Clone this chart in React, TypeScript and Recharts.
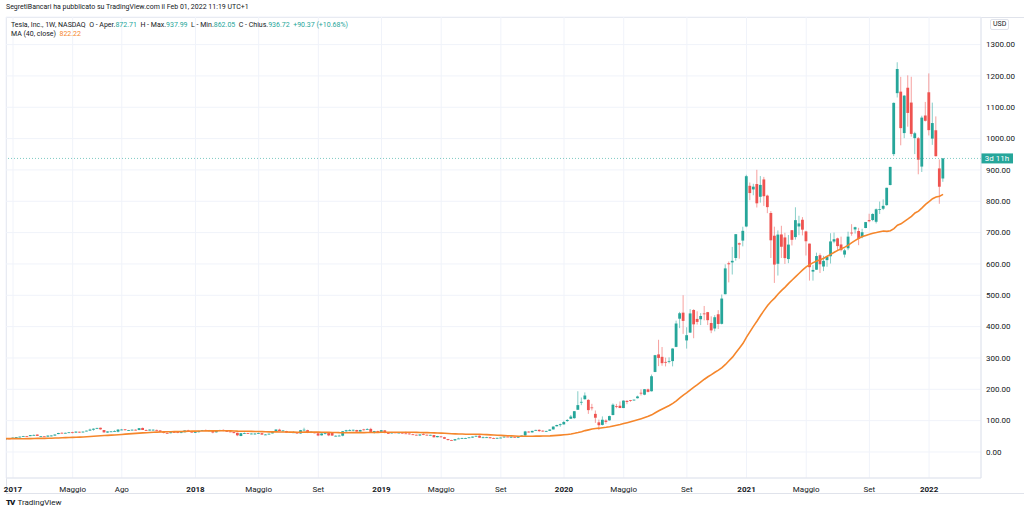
import React from "react";
import { Bar, CartesianGrid, ComposedChart, Line, ReferenceLine, XAxis, YAxis } from "recharts";

const UP = "#26a69a";
const DOWN = "#ef5350";
const MA_COLOR = "#f5862b";
const TEXT = "#131722";
const BORDER = "#e0e3eb";

// weekly candles, [open, high, low, close], prices adjusted for the 2020 split
const candles2016 = [
  [40.5, 42.8, 40.4, 42.7], [43.0, 44.5, 42.4, 42.7],
];
const candles2017 = [
  [43.0, 46.5, 42.9, 45.8], [45.9, 47.8, 45.3, 47.6], [47.5, 49.4, 46.8, 48.9], [49.0, 51.3, 48.8, 50.6],
  [50.4, 51.2, 49.0, 50.3], [50.6, 54.2, 50.4, 53.8], [54.0, 56.0, 53.6, 54.4], [55.6, 56.2, 51.2, 51.4],
  [50.0, 51.0, 48.8, 50.3], [50.0, 50.6, 48.5, 48.7], [49.0, 52.8, 48.6, 52.3], [52.5, 53.2, 49.5, 52.6],
  [52.4, 56.0, 52.0, 55.7], [57.2, 61.2, 56.8, 60.5], [61.2, 62.7, 59.9, 60.8], [60.5, 61.8, 59.6, 61.1],
  [61.6, 63.2, 60.6, 62.8], [63.0, 64.7, 59.4, 61.7], [61.8, 65.7, 61.5, 65.0], [64.6, 64.9, 60.6, 62.2],
  [62.4, 65.2, 62.0, 65.0], [66.1, 68.2, 65.8, 68.0], [68.2, 74.4, 68.0, 71.5], [71.0, 75.3, 68.0, 74.3],
  [74.9, 77.3, 73.0, 76.7], [77.3, 77.6, 71.0, 72.3], [70.0, 70.0, 61.8, 62.6], [62.0, 66.0, 60.8, 65.6],
  [65.2, 66.5, 63.8, 65.7], [65.7, 69.3, 64.8, 67.0], [64.8, 73.0, 62.7, 71.4], [71.4, 73.6, 69.4, 71.6],
  [72.4, 73.0, 69.2, 69.5], [68.9, 70.4, 67.0, 69.6], [69.6, 71.9, 69.0, 71.1], [71.0, 72.4, 68.6, 68.7],
  [70.0, 76.3, 69.9, 76.0], [76.7, 77.9, 70.0, 70.2], [70.0, 72.0, 67.5, 68.2], [68.5, 72.0, 68.0, 71.4],
  [70.4, 72.4, 68.6, 71.1], [70.4, 71.4, 68.0, 69.0], [68.8, 69.2, 63.1, 64.2], [64.4, 64.6, 59.1, 61.2],
  [60.8, 62.6, 59.2, 60.6], [60.0, 64.0, 59.4, 63.0], [63.4, 63.9, 61.8, 63.1], [63.1, 64.1, 60.0, 61.4],
  [61.4, 63.4, 60.2, 63.0], [63.0, 69.4, 62.7, 68.7], [69.0, 71.0, 64.4, 65.0], [64.5, 66.0, 61.7, 62.3],
];
const candles2018 = [
  [62.4, 64.6, 60.4, 63.2], [63.2, 67.6, 62.4, 67.2], [67.6, 70.2, 67.0, 70.0], [70.2, 72.0, 68.0, 68.6],
  [68.8, 70.4, 66.8, 68.8], [67.4, 69.2, 59.6, 62.1], [62.8, 67.6, 62.0, 67.1], [67.1, 71.0, 66.2, 70.2],
  [70.4, 72.0, 66.0, 67.0], [66.4, 67.6, 64.2, 65.4], [65.4, 67.2, 63.3, 64.3], [63.4, 64.0, 60.0, 60.3],
  [61.2, 62.0, 50.4, 53.2], [51.0, 60.8, 50.4, 59.9], [59.9, 62.2, 58.8, 60.1], [60.4, 61.4, 57.6, 58.0],
  [57.6, 59.6, 56.6, 58.8], [58.8, 61.0, 55.0, 58.8], [59.0, 62.2, 58.2, 60.2], [60.0, 60.4, 55.2, 55.4],
  [55.8, 57.4, 54.0, 55.8], [56.0, 58.8, 55.2, 58.4], [59.4, 67.0, 59.2, 63.5], [64.4, 72.8, 64.0, 71.6],
  [71.2, 74.3, 66.5, 66.7], [66.6, 70.0, 64.2, 68.6], [67.0, 67.6, 61.2, 61.8], [62.0, 64.6, 61.4, 63.8],
  [62.0, 66.0, 61.4, 62.7], [61.4, 61.8, 59.2, 59.4], [59.2, 70.4, 58.0, 69.6], [70.0, 77.4, 68.8, 71.1],
  [69.6, 71.0, 60.2, 61.1], [61.2, 66.0, 60.2, 64.6], [62.4, 64.0, 59.4, 60.3], [59.6, 60.0, 50.5, 52.6],
  [53.2, 59.8, 52.4, 59.0], [58.0, 60.2, 56.5, 59.8], [60.2, 62.0, 50.4, 53.0], [61.0, 62.2, 51.4, 52.4],
  [51.8, 53.0, 49.6, 51.8], [51.6, 55.2, 50.8, 52.2], [52.0, 67.0, 50.0, 66.2], [66.0, 70.8, 64.2, 69.3],
  [68.8, 72.6, 67.4, 70.1], [70.0, 71.0, 65.8, 70.9], [70.0, 70.8, 64.2, 65.2], [65.2, 71.2, 64.6, 70.1],
  [72.0, 74.0, 68.4, 71.6], [72.0, 76.0, 71.0, 73.1], [73.6, 77.2, 63.6, 64.0], [62.6, 67.4, 58.8, 66.6],
];
const candles2019 = [
  [66.6, 68.0, 60.4, 63.5], [64.2, 70.0, 63.0, 69.5], [69.0, 69.8, 59.6, 60.5], [60.6, 61.2, 57.6, 59.4],
  [59.4, 64.0, 58.6, 62.4], [62.4, 63.4, 60.4, 61.2], [61.6, 62.8, 60.6, 61.6], [61.4, 62.6, 58.4, 58.9],
  [59.4, 65.0, 58.2, 59.0], [59.0, 59.4, 55.6, 56.8], [56.4, 58.2, 54.4, 55.1], [55.0, 55.6, 52.6, 52.9],
  [52.6, 56.2, 50.8, 56.0], [56.8, 59.8, 53.6, 55.0], [55.0, 55.8, 53.0, 53.6], [53.6, 55.0, 53.0, 54.7],
  [54.0, 54.4, 46.0, 47.0], [47.2, 51.4, 46.6, 51.0], [49.6, 51.2, 46.6, 47.9], [47.2, 48.4, 41.6, 42.2],
  [41.2, 41.8, 36.6, 38.1], [38.2, 39.0, 36.8, 37.0], [37.0, 41.2, 35.4, 40.9], [42.2, 45.6, 41.8, 43.0],
  [43.0, 45.6, 42.4, 44.4], [44.6, 45.2, 42.6, 44.7], [46.4, 47.6, 44.6, 46.6], [46.0, 49.2, 45.2, 49.1],
  [49.4, 51.8, 48.6, 51.6], [52.0, 53.0, 45.2, 45.6], [45.6, 49.4, 44.2, 46.9], [45.8, 48.4, 45.0, 47.0],
  [47.0, 47.4, 43.2, 44.0], [44.4, 46.0, 42.0, 42.3], [42.6, 45.6, 42.2, 45.1], [45.0, 46.4, 44.0, 45.9],
  [46.6, 49.4, 45.6, 49.0], [49.0, 49.8, 47.6, 48.1], [48.2, 49.4, 45.6, 48.4], [48.2, 49.0, 45.8, 46.3],
  [45.6, 50.0, 45.4, 49.6], [49.4, 52.6, 49.0, 52.4], [52.6, 67.4, 50.4, 65.6], [65.0, 66.6, 61.8, 62.7],
  [62.6, 67.8, 62.0, 67.4], [69.0, 70.8, 67.6, 70.4], [70.6, 72.0, 64.2, 66.6], [68.0, 68.8, 64.8, 66.0],
  [65.8, 67.6, 64.0, 67.2], [67.6, 72.4, 67.0, 71.7], [72.0, 81.6, 72.0, 81.1], [82.0, 87.0, 81.6, 86.1],
];
const candles2020 = [
  [85.8, 90.8, 80.4, 88.6], [88.1, 99.4, 87.6, 95.6], [98.7, 105.1, 96.0, 102.1], [106.0, 118.0, 105.8, 113.0],
  [108.0, 130.8, 106.0, 130.1], [134.7, 193.8, 134.3, 149.6], [160.0, 173.8, 149.4, 160.0], [168.4, 190.0, 167.2, 180.2],
  [166.2, 168.7, 121.6, 133.6], [142.2, 153.6, 132.6, 140.7], [121.6, 132.4, 92.8, 109.3], [94.6, 103.4, 70.1, 85.5],
  [86.4, 113.6, 84.8, 102.9], [100.2, 104.4, 90.0, 96.0], [101.0, 115.9, 100.0, 114.6], [118.0, 155.0, 116.8, 150.8],
  [146.0, 153.4, 139.6, 145.0], [147.6, 161.2, 140.0, 140.3], [140.2, 164.8, 140.0, 163.9], [163.2, 164.8, 152.6, 159.8],
  [165.6, 166.0, 160.0, 163.4], [166.6, 167.0, 163.8, 167.0], [171.6, 179.8, 170.8, 177.1], [189.0, 199.6, 180.2, 187.1],
  [182.8, 201.0, 181.2, 200.2], [199.8, 202.2, 190.0, 191.9], [193.8, 247.0, 193.0, 241.7], [255.4, 309.8, 254.6, 308.9],
  [311.4, 358.0, 274.0, 300.1], [303.6, 335.0, 275.2, 283.4], [287.4, 301.0, 273.0, 286.2], [289.8, 302.0, 282.8, 290.5],
  [290.0, 331.0, 273.2, 330.1], [335.4, 419.1, 334.4, 410.0], [425.3, 447.0, 395.2, 442.7], [444.6, 500.1, 376.9, 418.3],
  [356.0, 398.0, 329.9, 372.7], [380.9, 456.0, 380.0, 442.2], [453.1, 455.7, 363.0, 407.3], [424.6, 449.0, 406.6, 415.1],
  [423.4, 443.0, 405.0, 434.0], [442.0, 465.9, 420.0, 439.7], [446.2, 447.0, 405.1, 420.6], [411.6, 432.9, 379.1, 388.0],
  [394.0, 436.6, 385.0, 430.0], [439.5, 452.5, 392.3, 408.5], [408.9, 502.5, 407.0, 489.6], [503.5, 598.8, 503.0, 585.8],
  [602.2, 607.8, 541.2, 599.0], [604.9, 654.3, 566.3, 610.0], [619.0, 695.0, 610.4, 695.0], [666.2, 668.5, 617.0, 661.8],
  [674.5, 718.7, 656.2, 705.7],
];
const candles2021 = [
  [719.5, 884.5, 717.2, 880.0], [849.4, 859.9, 803.6, 826.2], [837.8, 855.8, 819.1, 846.6], [855.0, 900.4, 780.1, 793.5],
  [814.3, 880.5, 795.6, 852.2], [869.7, 877.8, 785.3, 816.1], [818.0, 821.0, 762.0, 781.3], [762.6, 768.5, 619.0, 675.5],
  [690.1, 719.0, 539.5, 598.0], [600.6, 707.0, 563.0, 693.7], [694.1, 721.8, 619.0, 654.9], [684.6, 699.6, 600.0, 618.7],
  [615.6, 692.4, 602.5, 661.8], [707.7, 708.2, 659.0, 677.0], [685.7, 780.8, 677.7, 739.8], [719.6, 753.8, 691.8, 729.4],
  [741.0, 749.4, 691.2, 709.4], [703.8, 706.0, 627.0, 672.4], [664.9, 665.0, 546.9, 589.7], [575.6, 596.5, 546.9, 580.9],
  [581.6, 636.0, 581.0, 625.2], [627.8, 633.8, 571.2, 599.1], [591.8, 625.9, 577.2, 609.9], [612.2, 625.5, 591.1, 623.3],
  [624.5, 698.0, 601.4, 671.9], [671.6, 700.0, 666.1, 678.9], [681.7, 684.0, 644.6, 657.0], [662.2, 687.2, 640.0, 644.2],
  [629.9, 648.8, 620.5, 643.4], [650.0, 703.0, 644.0, 687.2], [700.0, 726.9, 690.0, 699.1], [710.2, 719.0, 697.0, 717.2],
  [705.1, 715.2, 659.9, 680.3], [685.4, 712.1, 682.0, 701.2], [714.7, 734.0, 714.0, 733.6], [740.0, 760.2, 733.0, 736.3],
  [740.2, 761.8, 736.4, 759.5], [734.6, 777.0, 729.3, 774.4], [773.1, 799.0, 759.5, 775.2], [776.2, 806.0, 771.9, 785.5],
  [787.7, 843.2, 785.8, 843.0], [851.8, 910.0, 851.0, 909.7], [950.5, 1115.2, 944.2, 1114.0], [1145.0, 1243.5, 1131.2, 1222.1],
  [1149.8, 1197.0, 978.6, 1033.4], [1017.6, 1138.7, 1001.4, 1137.1], [1162.3, 1201.9, 1038.0, 1081.9], [1115.0, 1197.2, 1006.2, 1015.0],
  [1001.5, 1021.6, 950.5, 1017.0], [1001.1, 1005.0, 886.1, 932.6], [910.7, 1072.9, 893.4, 1067.0], [1073.7, 1117.0, 1054.6, 1056.8],
];
const candles2022 = [
  [1147.8, 1208.0, 1010.0, 1027.0], [1000.0, 1114.8, 980.0, 1049.6], [1026.6, 1070.8, 942.9, 943.9], [904.8, 933.5, 792.0, 846.4],
  [872.71, 937.99, 862.05, 936.72],
];

// weekly closes before the first visible candle, only needed to seed MA(40)
const maSeed2016 = [
  45.6, 47.5, 50.0, 50.9, 50.8, 48.2, 42.3, 41.5, 44.1, 44.6, 43.8, 43.8, 43.1, 38.6, 43.3, 43.4, 44.1, 44.5, 47.0, 46.0,
  44.6, 45.0, 44.0, 39.6, 38.9, 41.1, 42.7, 40.8, 39.3, 39.3, 40.0, 40.0, 38.1, 36.1, 37.0, 39.3, 36.3, 38.4, 40.5,
];

// week index 0 = week of 2 Jan 2017
const firstWeek = -2;
const maLength = 40;
const xTickWeeks = [0, 17, 31, 52, 70, 87, 105, 122, 139, 157, 174, 192, 209, 226, 244, 261];
const xTickLabels = ["2017", "Maggio", "Ago", "2018", "Maggio", "Set", "2019", "Maggio", "Set", "2020", "Maggio", "Set", "2021", "Maggio", "Set", "2022"];
const yTicks = [0, 100, 200, 300, 400, 500, 600, 700, 800, 900, 1000, 1100, 1200, 1300];

const allCandles = [...candles2016, ...candles2017, ...candles2018, ...candles2019, ...candles2020, ...candles2021, ...candles2022];
const allCloses = [...maSeed2016, ...allCandles.map((c) => c[3])];

const rows = allCandles.map(([o, h, l, c], k) => {
  const end = k + maSeed2016.length;
  const win = allCloses.slice(end - maLength + 1, end + 1);
  const ma = win.reduce((s, v) => s + v, 0) / win.length;
  return { week: k + firstWeek, o, h, l, c, range: [l, h], ma };
});

const last = allCandles[allCandles.length - 1];

function Candle(props: any) {
  const { x, y, width, height, payload } = props;
  if (!payload) return null;
  const { o, h, l, c } = payload;
  const top = Math.min(y, y + height);
  const hh = Math.abs(height);
  const span = h - l || 1;
  const toY = (v: number) => top + ((h - v) / span) * hh;
  const cx = x + width / 2;
  const color = c >= o ? UP : DOWN;
  const bTop = toY(Math.max(o, c));
  const bBot = toY(Math.min(o, c));
  const bw = 2.8;
  return (
    <g>
      <line x1={cx} x2={cx} y1={top} y2={top + hh} stroke={color} strokeOpacity={0.55} strokeWidth={1} />
      <rect x={cx - bw / 2} y={bTop} width={bw} height={Math.max(bBot - bTop, 0.8)} fill={color} />
    </g>
  );
}

function MonthTick({ x, y, payload }: any) {
  const label = xTickLabels[xTickWeeks.indexOf(payload.value)] ?? "";
  const isYear = /^\d{4}$/.test(label);
  return (
    <text x={x} y={y + 12} textAnchor="middle" fontSize={8} fontWeight={isYear ? 700 : 400} fill={TEXT}>
      {label}
    </text>
  );
}

function CountdownLabel({ viewBox }: any) {
  const right = viewBox.x + viewBox.width;
  return (
    <g>
      <rect x={right} y={viewBox.y - 5} width={32} height={10} fill={UP} />
      <text x={right + 16} y={viewBox.y + 3} textAnchor="middle" fontSize={8} fill="#fff">3d 11h</text>
    </g>
  );
}

export default function App() {
  return (
    <div style={{ position: "absolute", left: 0, top: 0, width: 1024, height: 515, background: "#fff", fontFamily: "Roboto, sans-serif", color: TEXT, overflow: "hidden" }}>
      <div style={{ position: "absolute", left: 6, top: 3, fontSize: 7, whiteSpace: "nowrap" }}>
        SegretiBancari ha pubblicato su TradingView.com il Feb 01, 2022 11:19 UTC+1
      </div>
      <div style={{ position: "absolute", left: 6, top: 17, width: 1018, height: 477, border: `1px solid ${BORDER}`, borderRight: "none", boxSizing: "border-box" }} />
      <ComposedChart width={1024} height={495} data={rows} margin={{ top: 17, right: 0, bottom: 0, left: 6 }} style={{ position: "absolute", left: 0, top: 0 }}>
        <CartesianGrid stroke="#f0f3fa" />
        <XAxis
          dataKey="week"
          type="number"
          domain={[-1.995, 275.8]}
          allowDataOverflow
          ticks={xTickWeeks}
          tick={<MonthTick />}
          tickLine={false}
          tickSize={0}
          height={17}
          axisLine={{ stroke: BORDER }}
          interval={0}
        />
        <YAxis
          orientation="right"
          domain={[-83, 1388]}
          allowDataOverflow
          ticks={yTicks}
          tickFormatter={(v: number) => v.toFixed(2)}
          tick={{ fontSize: 8, fill: TEXT }}
          tickLine={false}
          tickSize={0}
          tickMargin={5}
          width={43}
          axisLine={{ stroke: BORDER }}
        />
        <Bar dataKey="range" barSize={3} shape={<Candle />} isAnimationActive={false} />
        <Line type="linear" dataKey="ma" stroke={MA_COLOR} strokeWidth={1.6} dot={false} activeDot={false} isAnimationActive={false} />
        <ReferenceLine y={last[3]} stroke={UP} strokeOpacity={0.6} strokeDasharray="1 2" label={<CountdownLabel />} />
      </ComposedChart>
      <div style={{ position: "absolute", left: 11, top: 21, fontSize: 7, whiteSpace: "nowrap" }}>
        Tesla, Inc., 1W, NASDAQ&nbsp;&nbsp;O - Aper.<span style={{ color: UP }}>872.71</span>&nbsp;&nbsp;H - Max.<span style={{ color: UP }}>937.99</span>&nbsp;&nbsp;L - Min.<span style={{ color: UP }}>862.05</span>&nbsp;&nbsp;C - Chius.<span style={{ color: UP }}>936.72</span>&nbsp;&nbsp;<span style={{ color: UP }}>+90.37 (+10.68%)</span>
      </div>
      <div style={{ position: "absolute", left: 11, top: 30, fontSize: 7, whiteSpace: "nowrap" }}>
        MA (40, close)&nbsp;&nbsp;<span style={{ color: MA_COLOR }}>822.22</span>
      </div>
      <div style={{ position: "absolute", left: 990, top: 19, fontSize: 7, border: `1px solid ${BORDER}`, borderRadius: 2, padding: "0 2px", lineHeight: "9px" }}>USD</div>
      <div style={{ position: "absolute", left: 6, top: 498, fontSize: 8, display: "flex", alignItems: "center", gap: 3 }}>
        <span style={{ fontWeight: 900, fontSize: 8, letterSpacing: -1 }}>TV</span>
        <span>TradingView</span>
      </div>
    </div>
  );
}
